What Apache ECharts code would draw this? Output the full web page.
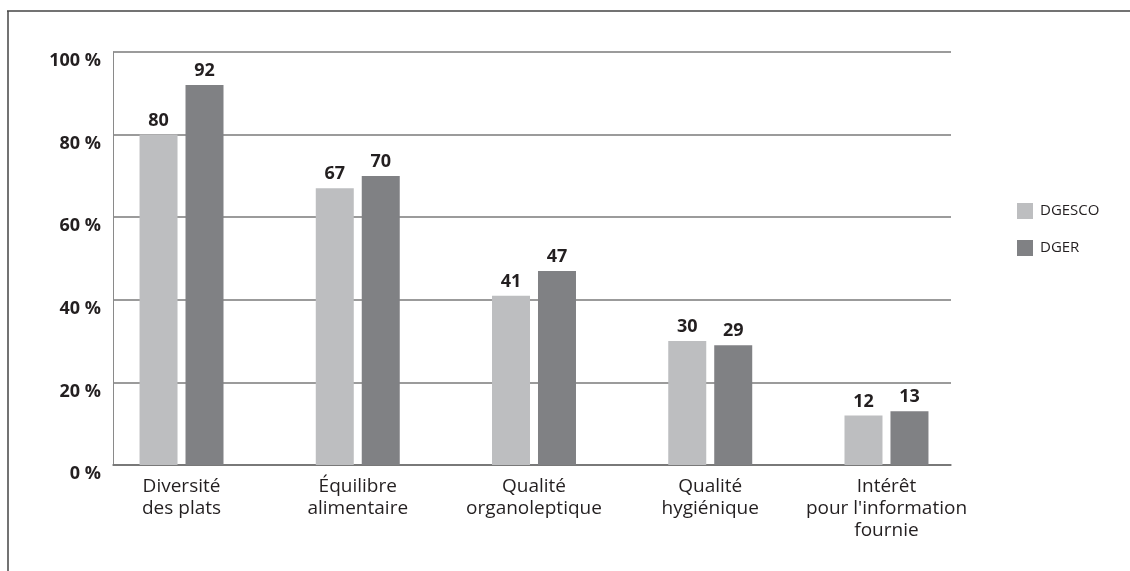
<!DOCTYPE html>
<html>
<head>
<meta charset="utf-8">
<script src="https://cdn.jsdelivr.net/npm/echarts@6/dist/echarts.min.js"></script>
<style>
  html, body { margin: 0; padding: 0; background: #fff; }
  #chart { width: 1130px; height: 571px; }
</style>
</head>
<body>
<div id="chart"></div>
<script>
// données
var categories = ['Diversité\ndes plats', 'Équilibre\nalimentaire', 'Qualité\norganoleptique', 'Qualité\nhygiénique', 'Intérêt\npour l\'information\nfournie'];
var dgesco = [80, 67, 41, 30, 12];
var dger = [92, 70, 47, 29, 13];
var seriesNames = ['DGESCO', 'DGER'];
var yTicks = [0, 20, 40, 60, 80, 100];

var font = '"Open Sans", "Noto Sans", sans-serif';
var ink = '#231f20';

var myChart = echarts.init(document.getElementById('chart'));

var option = {
    backgroundColor: '#fff',
    animation: false,
    textStyle: { fontFamily: font, color: ink },
    legend: {
        orient: 'vertical',
        left: 1017,
        top: 203,
        padding: 0,
        itemWidth: 16,
        itemHeight: 16,
        itemGap: 21,
        icon: 'rect',
        data: seriesNames,
        textStyle: { fontSize: 15, color: ink, fontFamily: font, padding: [0, 0, 0, 2] }
    },
    grid: [
        // grille des barres
        { left: 93.4, right: 155.4, top: 52, bottom: 106 },
        // grille des lignes / axe des y
        { left: 113, right: 179, top: 52, bottom: 106 }
    ],
    xAxis: [
        {
            type: 'category',
            gridIndex: 0,
            data: categories,
            axisLine: { show: false },
            axisTick: { show: false },
            axisLabel: {
                interval: 0,
                margin: 11,
                fontSize: 19,
                lineHeight: 22,
                color: ink,
                fontFamily: font
            }
        },
        {
            type: 'value',
            gridIndex: 1,
            min: 0,
            max: 1,
            show: true,
            axisLine: { show: true, lineStyle: { color: '#6f6f6f', width: 1.5 } },
            axisTick: { show: false },
            axisLabel: { show: false },
            splitLine: { show: false }
        }
    ],
    yAxis: [
        {
            type: 'value',
            gridIndex: 0,
            min: 0,
            max: 100,
            interval: 20,
            show: false
        },
        {
            type: 'value',
            gridIndex: 1,
            min: yTicks[0],
            max: yTicks[yTicks.length - 1],
            interval: 20,
            axisLine: { show: true, lineStyle: { color: '#8a8a8a', width: 1 } },
            axisTick: { show: false },
            splitLine: { show: true, lineStyle: { color: '#7a7a7a', width: 1.5 } },
            axisLabel: {
                margin: 12,
                fontSize: 18,
                fontWeight: 'bold',
                color: ink,
                fontFamily: font,
                verticalAlign: 'top',
                formatter: function (v) { return v + ' %'; }
            }
        }
    ],
    series: [
        {
            name: seriesNames[0],
            type: 'bar',
            xAxisIndex: 0,
            yAxisIndex: 0,
            barWidth: 38,
            barGap: '21%',
            itemStyle: { color: '#bdbec0' },
            label: {
                show: true,
                position: 'top',
                distance: 5,
                fontSize: 18,
                fontWeight: 'bold',
                color: ink,
                fontFamily: font
            },
            data: dgesco,
            z: 3
        },
        {
            name: seriesNames[1],
            type: 'bar',
            xAxisIndex: 0,
            yAxisIndex: 0,
            barWidth: 38,
            barGap: '21%',
            itemStyle: { color: '#808184' },
            label: {
                show: true,
                position: 'top',
                distance: 5,
                fontSize: 18,
                fontWeight: 'bold',
                color: ink,
                fontFamily: font
            },
            data: dger,
            z: 3
        }
    ],
    graphic: [
        // cadre
        { type: 'line', shape: { x1: 7, y1: 11, x2: 1130, y2: 11 }, style: { stroke: '#444', lineWidth: 1.5 } },
        { type: 'line', shape: { x1: 8, y1: 11, x2: 8, y2: 571 }, style: { stroke: '#444', lineWidth: 1.5 } }
    ]
};

myChart.setOption(option);
</script>
</body>
</html>
